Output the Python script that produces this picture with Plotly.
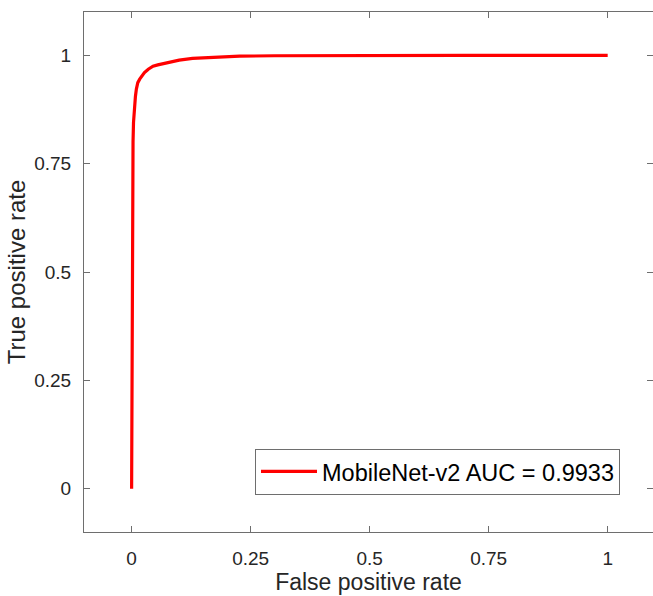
import plotly.graph_objects as go

fpr = [0, 0.0005, 0.001, 0.0015, 0.002, 0.003, 0.004, 0.006, 0.008, 0.010, 0.013,
       0.017, 0.022, 0.027, 0.035, 0.045, 0.055, 0.066, 0.075, 0.085, 0.10, 0.128,
       0.16, 0.185, 0.227, 0.3, 0.4, 0.5, 0.7, 1.0]
tpr = [0, 0.30, 0.55, 0.68, 0.74, 0.80, 0.845, 0.883, 0.905, 0.922, 0.937,
       0.945, 0.953, 0.960, 0.968, 0.975, 0.978, 0.981, 0.983, 0.986, 0.989, 0.993,
       0.995, 0.996, 0.998, 0.999, 0.9995, 1.0, 1.0, 1.0]
series_name = "MobileNet-v2 AUC = 0.9933"
tick_vals = [0, 0.25, 0.5, 0.75, 1]
tick_text = ["0", "0.25", "0.5", "0.75", "1"]

FONT = "Liberation Sans, Arial, sans-serif"
AX = "#6e6e6e"
TXT = "#262626"

fig = go.Figure()
fig.add_trace(go.Scatter(x=fpr, y=tpr, mode="lines", name=series_name,
                         line=dict(color="#ff0000", width=3.2)))

axis_common = dict(
    showgrid=False, zeroline=False, showline=True, linecolor=AX, linewidth=1,
    mirror="ticks", ticks="inside", ticklen=6, tickcolor=AX, tickwidth=1,
    tickvals=tick_vals, ticktext=tick_text, automargin=False,
    tickfont=dict(family=FONT, size=19, color=TXT),
)

fig.update_layout(
    width=653, height=596,
    margin=dict(l=84, r=0, t=12, b=64),
    paper_bgcolor="white", plot_bgcolor="white",
    font=dict(family=FONT, color=TXT),
    xaxis=dict(range=[-0.1, 1.0952],
               title=dict(text="False positive rate", font=dict(size=23, color=TXT), standoff=5),
               ticklabelstandoff=9, **axis_common),
    yaxis=dict(range=[-0.1, 1.1],
               title=dict(text="True positive rate", font=dict(size=24, color=TXT), standoff=1),
               ticklabelstandoff=8, **axis_common),
    showlegend=True,
    legend=dict(x=0.942, y=0.072, xanchor="right", yanchor="bottom",
                bgcolor="white", bordercolor=AX, borderwidth=1,
                font=dict(family=FONT, size=23.5, color="#000000"),
                itemwidth=56, tracegroupgap=0),
)

fig.write_html("out.html", config={"displayModeBar": False},
               post_script="document.body.style.margin='0';document.body.style.overflow='hidden';")
